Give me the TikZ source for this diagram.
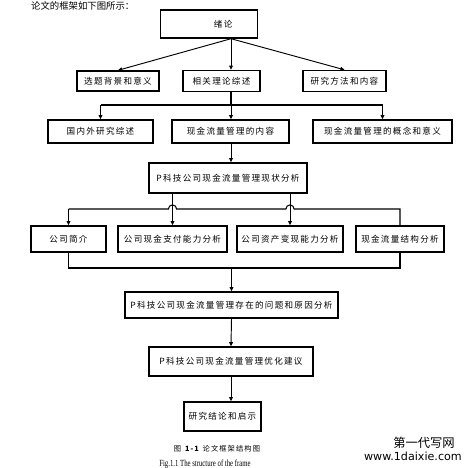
\documentclass[tikz,border=0pt]{standalone}
\usepackage{graphicx}
\usepackage{fontspec}
\setmainfont{Liberation Serif}
\newfontfamily\cjk[LetterSpace=15]{Noto Sans CJK SC}
\newfontfamily\cjkw{Noto Sans CJK SC}
\newfontfamily\urlfont{DejaVu Sans}
\usepackage{tikz}
\usetikzlibrary{calc}
\usetikzlibrary{arrows.meta}

\tikzset{
    kotak/.style 2 args={draw=black, line width=1.2pt, inner sep=0pt,
        minimum width=#1*0.03cm, minimum height=#2*0.03cm,
        font=\cjk\fontsize{7.3}{9}\selectfont},
    garis/.style={line width=0.9pt},
    panah/.style={line width=0.8pt, -{Triangle[length=3.5pt,width=3.2pt]}}
}

\begin{document}
\begin{tikzpicture}[x=0.03cm, y=-0.03cm]
        %BATAS
        \useasboundingbox (0,0) rectangle (466,468);
        %KALIMAT ATAS
        \node[anchor=base west, inner sep=0pt, font=\cjkw\fontsize{8}{10}\selectfont] (pengantar) at (31,9) {论文的框架如下图所示：};
        %SUMBU
        \coordinate (sumbu) at (231,0);
        \coordinate (C1) at (0,105);
        \coordinate (C2) at (0,209);
        \coordinate (C3) at (0,268);
        %KOTAK
        \node[kotak={97}{28}] (xl) at (209,24) {\hspace*{24pt}绪\,论};
        \node[kotak={82}{20}] (xb) at (118,81) {选题背景和意义};
        \node[kotak={77}{21}] (xg) at (221.5,81) {相关理论综述};
        \node[kotak={83}{21}] (xf) at (344.5,81) {研究方法和内容};
        \node[kotak={105}{23}] (gn) at (100.5,131.5) {国内外研究综述};
        \node[kotak={117}{23}] (nr) at (230.5,131.5) {现金流量管理的内容};
        \node[kotak={139}{23}] (kn) at (382.5,131.5) {现金流量管理的概念和意义};
        \node[kotak={158}{30}] (st) at (228,178) {P科技公司现金流量管理现状分析};
        \node[kotak={75}{26}] (gs) at (68.5,239) {公司简介};
        \node[kotak={109}{26}] (zf) at (172.5,239) {公司现金支付能力分析};
        \node[kotak={106}{26}] (bx) at (290,239) {公司资产变现能力分析};
        \node[kotak={88}{26}] (jg) at (400,239) {现金流量结构分析};
        \node[kotak={213}{26}] (wt) at (231.5,305) {P科技公司现金流量管理存在的问题和原因分析};
        \node[kotak={164}{29}] (yh) at (231,361.5) {P科技公司现金流量管理优化建议};
        \node[kotak={77}{29}] (jl) at (222.5,416.5) {研究结论和启示};
        %PANAH BARIS 1
        \draw[panah] (xl.south -| sumbu) -- (xb.north);
        \draw[panah] (xl.south -| sumbu) -- (xg.north -| sumbu);
        \draw[panah] (xl.south -| sumbu) -- (xf.north);
        %PANAH BARIS 2
        \draw[garis] (xg.south -| sumbu) -- (sumbu |- C1);
        \draw[garis] (gn.north |- C1) -- (kn.north |- C1);
        \draw[panah] (gn.north |- C1) -- (gn.north);
        \draw[panah] (sumbu |- C1) -- (nr.north -| sumbu);
        \draw[panah] (kn.north |- C1) -- (kn.north);
        %PANAH KE ANALISIS
        \draw[panah] (nr.south -| sumbu) -- (st.north -| sumbu);
        %CABANG DENGAN LOMPATAN
        \draw[garis] (gs.north |- C2) -- ($(zf.north |- C2)+(-3.5pt,0)$)
            arc[start angle=180, end angle=0, radius=3.5pt]
            -- ($(bx.north |- C2)+(-3.5pt,0)$)
            arc[start angle=180, end angle=0, radius=3.5pt]
            -- (jg.north |- C2) -- (jg.north);
        \draw[panah] (gs.north |- C2) -- (gs.north);
        \draw[panah] (st.south -| zf.north) -- (zf.north);
        \draw[panah] (st.south -| bx.north) -- (bx.north);
        %GABUNG BAWAH
        \draw[garis] (gs.south) -- (gs.south |- C3) -- (jg.south |- C3) -- (jg.south);
        \draw[panah] (wt.north |- C3) -- (wt.north);
        \draw[panah] (wt.south) -- (yh.north);
        \draw[panah] (yh.south) -- (yh.south |- jl.north);
        %KETERANGAN
        \node[inner sep=0pt, font=\cjk\fontsize{6.2}{8}\selectfont] (ket1) at (217,449) {图 \textbf{1-1} 论文框架结构图};
        \node[inner sep=0pt, font=\fontsize{8}{9}\selectfont] (ket2) at (205,464) {\scalebox{0.72}[1]{Fig.1.1 The structure of the frame}};
        %TANDA AIR
        \node[anchor=east, inner sep=0pt, font=\cjkw\fontsize{10.5}{12}\selectfont] (air1) at (455,443) {第一代写网};
        \node[anchor=east, inner sep=0pt, font=\urlfont\fontsize{9.5}{11}\selectfont] (air2) at (462,456) {www.1daixie.com};
    \end{tikzpicture}
\end{document}
